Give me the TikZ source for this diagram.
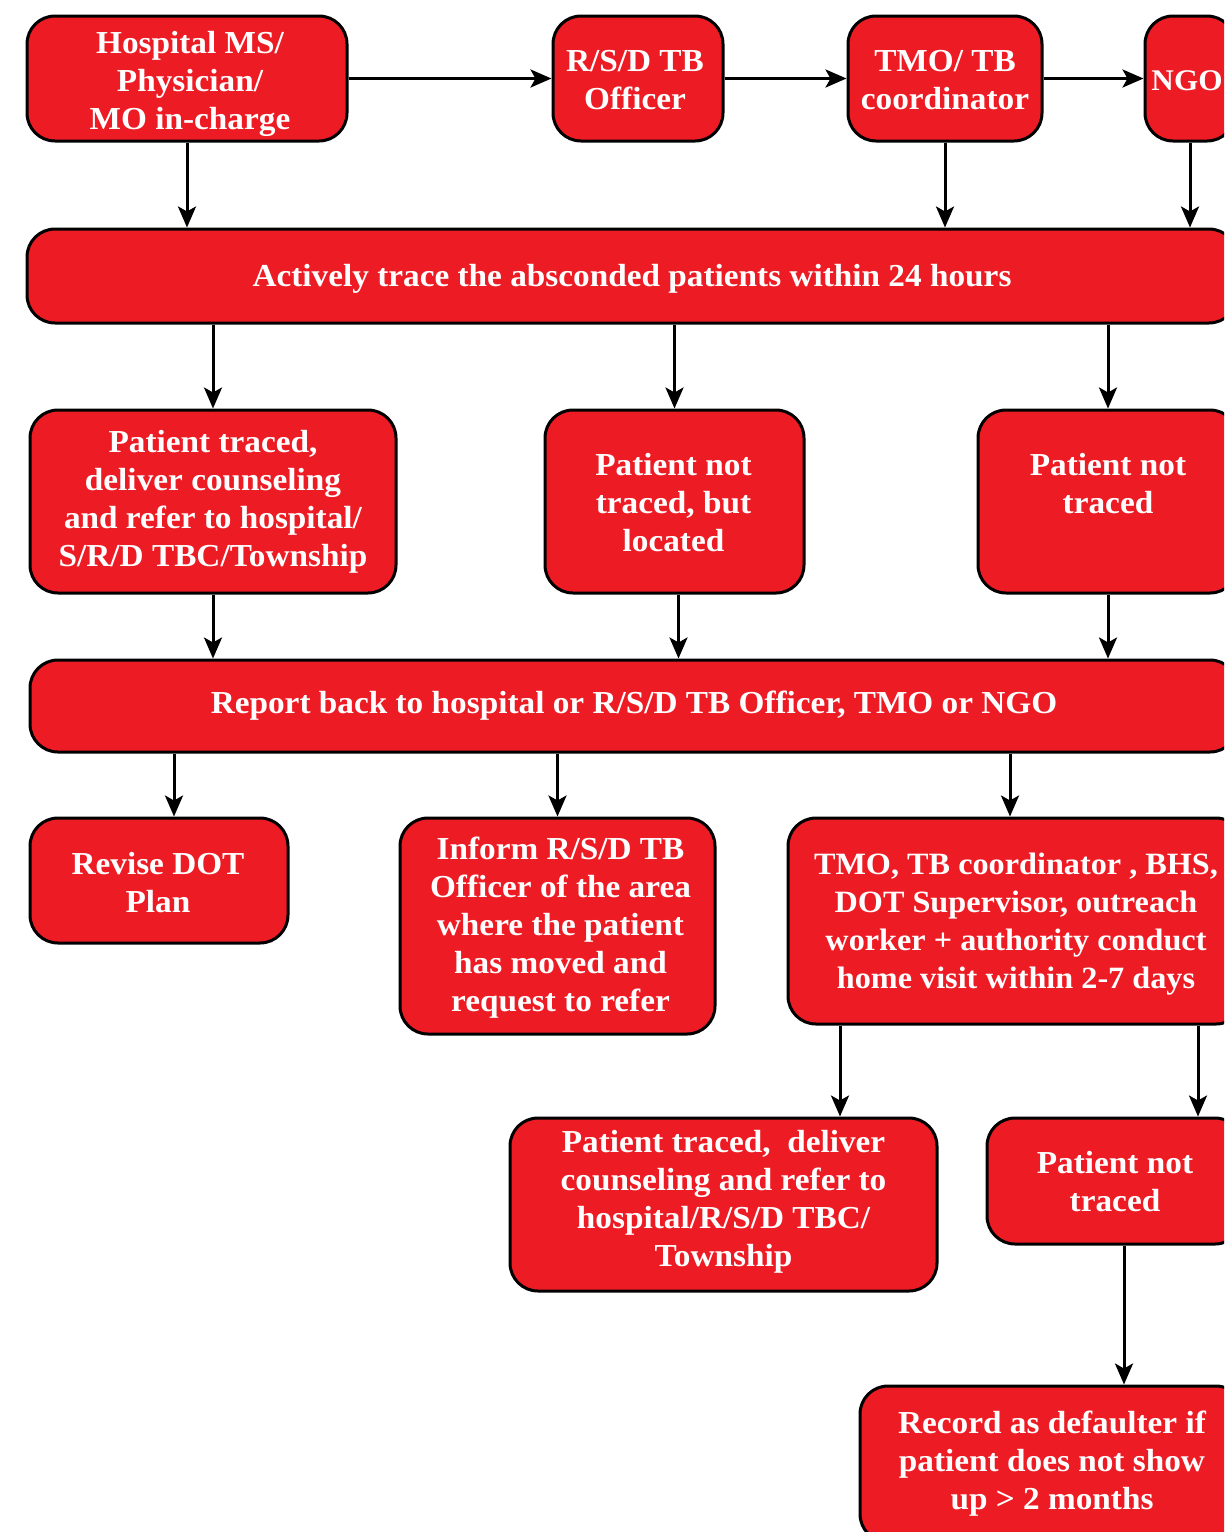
\documentclass[tikz,border=0pt]{standalone}
\usepackage{fontspec}
\setmainfont{Liberation Serif}[FakeStretch=1.04]
\usetikzlibrary{arrows.meta}
\definecolor{boxred}{HTML}{ED1C24}
\begin{document}
\begin{tikzpicture}[x=1pt,y=-1pt,
  box/.style={draw=black, line width=3pt, fill=boxred, rounded corners=28pt,
    inner sep=0pt},
  txt/.style={text=white, font=\bfseries\fontsize{32}{38}\selectfont,
    align=center, inner sep=0pt},
  arr/.style={line width=3pt, -{Stealth[length=21pt,width=18pt,inset=5pt]}}]
\useasboundingbox (0,0) rectangle (1224,1532);
\clip (0,0) rectangle (1224,1532);
\fill[white] (0,0) rectangle (1224,1532);

% top row of responsible persons
\node[box, minimum width=320pt, minimum height=125pt] (hosp) at (187,78.5) {};
\node[txt] (hosp-t) at ([shift={(3,5)}]hosp.center)
  {Hospital MS/\\Physician/\\MO in-charge};
\node[box, minimum width=170pt, minimum height=125pt] (rsd) at (638,78.5) {};
\node[txt] (rsd-t) at ([shift={(-3,2)}]rsd.center) {R/S/D TB\\Officer};
\node[box, minimum width=194pt, minimum height=125pt] (tmo) at (945,78.5) {};
\node[txt] (tmo-t) at ([shift={(0,2)}]tmo.center) {TMO/ TB\\coordinator};
\node[box, minimum width=90pt, minimum height=125pt] (ngo) at (1190,78.5) {};
\node[txt, font=\bfseries\fontsize{30}{38}\selectfont] (ngo-t)
  at ([shift={(-3,2)}]ngo.center) {NGO};

% tracing
\node[box, minimum width=1210pt, minimum height=94pt] (trace) at (632,276) {};
\node[txt] (trace-t) at ([shift={(0,3)}]trace.center)
  {Actively trace the absconded patients within 24 hours};

\node[box, minimum width=366pt, minimum height=183pt] (ptr) at (213,501.5) {};
\node[txt] (ptr-t) at ([shift={(0,0)}]ptr.center)
  {Patient traced,\\deliver counseling\\and refer to hospital/\\S/R/D TBC/Township};
\node[box, minimum width=259pt, minimum height=183pt] (pnl) at (674.5,501.5) {};
\node[txt] (pnl-t) at ([shift={(-1,1)}]pnl.center)
  {Patient not\\traced, but\\located};
\node[box, minimum width=260pt, minimum height=183pt] (pnt) at (1108,501.5) {};
\node[txt] (pnt-t) at ([shift={(0,-18)}]pnt.center) {Patient not\\traced};

% reporting
\node[box, minimum width=1208pt, minimum height=92pt] (report) at (634,706) {};
\node[txt] (report-t) at ([shift={(0,0)}]report.center)
  {Report back to hospital or R/S/D TB Officer, TMO or NGO};

\node[box, minimum width=258pt, minimum height=125pt] (revise) at (159,880.5) {};
\node[txt] (revise-t) at ([shift={(-1,2)}]revise.center) {Revise DOT\\Plan};
\node[box, minimum width=315pt, minimum height=216pt] (inform) at (557.5,926) {};
\node[txt] (inform-t) at ([shift={(3,2)}]inform.center)
  {Inform R/S/D TB\\Officer of the area\\where the patient\\has moved and\\request to refer};
\node[box, minimum width=456pt, minimum height=206pt] (visit) at (1016,921) {};
\node[txt, font=\bfseries\fontsize{31}{38}\selectfont] (visit-t)
  at ([shift={(0,3)}]visit.center)
  {TMO, TB coordinator , BHS,\\DOT Supervisor, outreach\\worker + authority conduct\\home visit within 2-7 days};

% home visit outcome
\node[box, minimum width=427pt, minimum height=173pt] (ptr2) at (723.5,1204.5) {};
\node[txt] (ptr2-t) at ([shift={(0,-3)}]ptr2.center)
  {Patient traced,~~deliver\\counseling and refer to\\hospital/R/S/D TBC/\\Township};
\node[box, minimum width=256pt, minimum height=126pt] (pnt2) at (1115,1181) {};
\node[txt] (pnt2-t) at ([shift={(0,1)}]pnt2.center) {Patient not\\traced};
\node[box, minimum width=384pt, minimum height=156pt] (rec) at (1052,1464) {};
\node[txt] (rec-t) at ([shift={(0,0)}]rec.center)
  {Record as defaulter if\\patient does not show\\up > 2 months};

% connectors
\draw[arr] (hosp.east) -- (rsd.west);
\draw[arr] (rsd.east) -- (tmo.west);
\draw[arr] (tmo.east) -- (ngo.west);

\draw[arr] (hosp.south) -- (hosp.south |- trace.north);
\draw[arr] (tmo.south) -- (tmo.south |- trace.north);
\draw[arr] (ngo.south) -- (ngo.south |- trace.north);

\draw[arr] (trace.south -| ptr.north) -- (ptr.north);
\draw[arr] (trace.south -| pnl.north) -- (pnl.north);
\draw[arr] (trace.south -| pnt.north) -- (pnt.north);

\draw[arr] (ptr.south) -- (ptr.south |- report.north);
\draw[arr] ([xshift=4pt]pnl.south) -- ([xshift=4pt]pnl.south |- report.north);
\draw[arr] (pnt.south) -- (pnt.south |- report.north);

\draw[arr] ([xshift=15pt]report.south -| revise.north) -- ([xshift=15pt]revise.north);
\draw[arr] (report.south -| inform.north) -- (inform.north);
\draw[arr] ([xshift=-6pt]report.south -| visit.north) -- ([xshift=-6pt]visit.north);

\draw[arr] (visit.south -| 840,0) -- (ptr2.north -| 840,0);
\draw[arr] (visit.south -| 1198,0) -- (pnt2.north -| 1198,0);
\draw[arr] (pnt2.south -| 1124,0) -- (rec.north -| 1124,0);
\end{tikzpicture}
\end{document}
